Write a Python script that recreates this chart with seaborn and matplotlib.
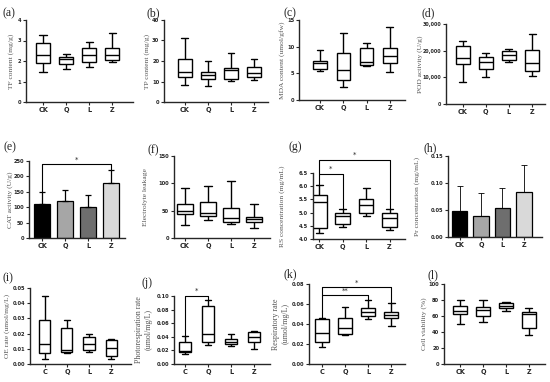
import numpy as np
import pandas as pd
import matplotlib
matplotlib.use("Agg")
import matplotlib.pyplot as plt
import seaborn as sns

sns.set_style("ticks")
plt.rcParams['font.family'] = ['DejaVu Sans']

# ---------------- data (min, Q1, median, Q3, max per group) ----------------
cats4 = ["CK", "Q", "L", "Z"]
cats4c = ["C", "Q", "L", "Z"]

tf_CK = [1.47, 1.92, 2.30, 2.88, 3.25]
tf_Q = [1.60, 1.84, 2.08, 2.20, 2.35]
tf_L = [1.71, 1.95, 2.27, 2.64, 2.91]
tf_Z = [1.95, 2.03, 2.27, 2.62, 3.36]

tp_CK = [8.5, 12.2, 14.7, 21.2, 31.0]
tp_Q = [7.7, 11.0, 13.0, 14.4, 20.0]
tp_L = [10.3, 11.3, 15.5, 16.8, 23.7]
tp_Z = [10.6, 12.2, 14.2, 17.1, 21.2]

mda_CK = [5.4, 5.9, 7.0, 7.4, 9.4]
mda_Q = [2.5, 3.8, 5.7, 8.9, 12.5]
mda_L = [6.3, 6.5, 7.2, 9.7, 10.6]
mda_Z = [5.2, 7.0, 8.2, 9.7, 13.6]

pod_CK = [8200, 14900, 17200, 21600, 23700]
pod_Q = [10300, 13200, 15900, 17600, 19300]
pod_L = [15700, 16600, 18400, 19900, 20600]
pod_Z = [10600, 12200, 15300, 20100, 26200]

cat_mean = [110, 120, 100, 180]
cat_top = [148, 155, 140, 222]

el_CK = [24, 44, 50, 63, 91]
el_Q = [33, 41, 45, 65, 96]
el_L = [26, 30, 36, 55, 104]
el_Z = [19, 30, 35, 39, 62]

rs_CK = [4.22, 4.42, 5.42, 5.67, 6.05]
rs_Q = [4.45, 4.55, 4.88, 5.00, 5.12]
rs_L = [4.87, 5.00, 5.28, 5.50, 5.92]
rs_Z = [4.35, 4.45, 4.78, 5.00, 5.12]

pr_mean = [0.048, 0.039, 0.054, 0.083]
pr_top = [0.094, 0.081, 0.090, 0.134]

oe_C = [0.0035, 0.0075, 0.013, 0.029, 0.045]
oe_Q = [0.007, 0.008, 0.0095, 0.024, 0.029]
oe_L = [0.008, 0.0095, 0.013, 0.018, 0.0195]
oe_Z = [0.0035, 0.0055, 0.0105, 0.016, 0.0165]

ph_C = [0.014, 0.017, 0.019, 0.032, 0.041]
ph_Q = [0.028, 0.033, 0.044, 0.085, 0.094]
ph_L = [0.027, 0.030, 0.032, 0.037, 0.044]
ph_Z = [0.022, 0.032, 0.040, 0.047, 0.048]

rr_C = [0.017, 0.022, 0.031, 0.045, 0.046]
rr_Q = [0.029, 0.030, 0.036, 0.046, 0.057]
rr_L = [0.045, 0.048, 0.052, 0.056, 0.064]
rr_Z = [0.038, 0.046, 0.049, 0.052, 0.061]

cv_CK = [50, 62, 66, 72, 80]
cv_Q = [53, 60, 67, 71, 80]
cv_L = [66, 70, 72, 76, 78]
cv_Z = [36, 45, 62, 65, 70]

bar_colors = ["#000000", "#a6a6a6", "#6e6e6e", "#d9d9d9"]

# ---------------- helpers ----------------
W, H = 550, 382
fig = plt.figure(figsize=(W / 100, H / 100), dpi=100)

def add_ax(l, t, r, b):
    ax = fig.add_axes([l / W, 1 - b / H, (r - l) / W, (b - t) / H])
    ax._px = (l, r)
    return ax

serif = ['Liberation Serif', 'DejaVu Serif']

def style(ax, cats, yticks, ylabels, ylabel, letter, lpos, xlim, ylx,
          ylsize=5.4, ytsize=3.7):
    ax.set_xlim(*xlim)
    ax.set_ylim(yticks[0], yticks[-1])
    ax.set_yticks(yticks)
    ax.set_yticklabels(ylabels, fontsize=ytsize, fontweight='bold')
    ax.set_xticks(range(len(cats)))
    ax.set_xticklabels(cats, fontsize=4.7, fontweight='bold')
    ax.set_xlabel("")
    ax.set_ylabel(ylabel, family=serif, fontsize=ylsize, color='#555555',
                  va='center', ha='center')
    l, r = ax._px
    ax.yaxis.set_label_coords((ylx - l) / (r - l), 0.5)
    for s in ['top', 'right']:
        ax.spines[s].set_visible(False)
    for s in ['left', 'bottom']:
        ax.spines[s].set_linewidth(1.0)
    ax.tick_params(length=2, width=0.8, pad=1.5)
    fig.text(lpos[0] / W, 1 - lpos[1] / H, f"({letter})", family=serif,
             fontsize=8.5, ha='center', va='center')

def box(ax, cats, groups, width):
    df = pd.DataFrame({'group': np.repeat(cats, [len(g) for g in groups]),
                       'value': np.concatenate(groups)})
    sns.boxplot(data=df, x='group', y='value', order=cats, ax=ax,
                color='white', linecolor='black', linewidth=1.0, width=width,
                whis=(0, 100), showfliers=False)

def bars(ax, cats, means, tops, elw):
    sns.barplot(x=cats, y=means, hue=cats, palette=bar_colors, legend=False,
                edgecolor='black', linewidth=0.9, width=0.72, ax=ax)
    up = np.array(tops) - np.array(means)
    ax.errorbar(range(len(cats)), means, yerr=[np.zeros_like(up), up],
                fmt='none', ecolor='black', elinewidth=elw, capsize=2.5,
                capthick=elw)

def bracket(ax, i, j, y, yl, yr, txt, dy):
    ax.plot([i, i, j, j], [yl, y, y, yr], color='black', lw=0.8,
            clip_on=False, solid_capstyle='butt')
    ax.text((i + j) / 2, y + dy, txt, ha='center', va='bottom',
            fontsize=5, clip_on=False)

# ---------------- row 1 ----------------
ax = add_ax(26, 20, 133, 102)
box(ax, cats4, [tf_CK, tf_Q, tf_L, tf_Z], 0.62)
style(ax, cats4, [0, 1, 2, 3, 4], ["0", "1", "2", "3", "4"],
      "TF content (mg/g)", "a", (9, 13), (-0.74, 3.9), 11)

ax = add_ax(164, 20, 268, 102)
box(ax, cats4, [tp_CK, tp_Q, tp_L, tp_Z], 0.58)
style(ax, cats4, [0, 10, 20, 30, 40], ["0", "10", "20", "30", "40"],
      "TP content (mg/g)", "b", (153, 13), (-0.9, 3.6), 147)

ax = add_ax(299, 20, 405, 100)
box(ax, cats4, [mda_CK, mda_Q, mda_L, mda_Z], 0.58)
style(ax, cats4, [0, 5, 10, 15], ["0", "5", "10", "15"],
      "MDA content (umol/gfw)", "c", (290, 13), (-0.9, 3.65), 282)

ax = add_ax(446, 24, 545, 104)
box(ax, cats4, [pod_CK, pod_Q, pod_L, pod_Z], 0.6)
style(ax, cats4, [0, 10000, 20000, 30000], ["0", "10,000", "20,000", "30,000"],
      "POD activity (U/g)", "d", (428, 13), (-0.72, 3.56), 420, ytsize=3.4)

# ---------------- row 2 ----------------
ax = add_ax(29, 161, 125, 238)
bars(ax, cats4, cat_mean, cat_top, 0.9)
style(ax, cats4, [0, 50, 100, 150, 200, 250], ["0", "50", "100", "150", "200", "250"],
      "CAT activity (U/g)", "e", (10, 147), (-0.57, 3.6), 10)
bracket(ax, 0, 3, 240, cat_top[0], cat_top[3], "*", 4)

ax = add_ax(174, 156, 270, 238)
box(ax, cats4, [el_CK, el_Q, el_L, el_Z], 0.66)
style(ax, cats4, [0, 50, 100, 150], ["0", "50", "100", "150"],
      "Electrolyte leakage", "f", (153, 150), (-0.48, 3.7), 145)

ax = add_ax(313, 173, 405, 239)
box(ax, cats4, [rs_CK, rs_Q, rs_L, rs_Z], 0.62)
style(ax, cats4, [4.0, 4.5, 5.0, 5.5, 6.0, 6.5],
      ["4.0", "4.5", "5.0", "5.5", "6.0", "6.5"],
      "RS concentration (mg/mL)", "g", (295, 147), (-0.27, 3.66), 282)
bracket(ax, 0, 1, 6.47, rs_CK[-1], rs_Q[-1], "*", 0.06)
bracket(ax, 0, 3, 7.0, 6.47, rs_Z[-1], "*", 0.06)

ax = add_ax(448, 156, 542, 237)
bars(ax, cats4, pr_mean, pr_top, 0.6)
style(ax, cats4, [0, 0.05, 0.10, 0.15], ["0.00", "0.05", "0.10", "0.15"],
      "Pr concentration (mg/mL)", "h", (430, 148), (-0.55, 3.85), 417)

# ---------------- row 3 ----------------
ax = add_ax(30, 288, 131, 364)
box(ax, cats4c, [oe_C, oe_Q, oe_L, oe_Z], 0.5)
style(ax, cats4c, [0, 0.01, 0.02, 0.03, 0.04, 0.05],
      ["0.00", "0.01", "0.02", "0.03", "0.04", "0.05"],
      "OE rate (umol/mg/L)", "i", (8, 278), (-0.67, 3.9), 7)

ax = add_ax(174, 296, 270, 364)
box(ax, cats4c, [ph_C, ph_Q, ph_L, ph_Z], 0.55)
style(ax, cats4c, [0, 0.02, 0.04, 0.06, 0.08, 0.10],
      ["0.00", "0.02", "0.04", "0.06", "0.08", "0.10"],
      "Photorespiration rate\n(umol/mg/L)", "j", (147, 283), (-0.48, 3.7), 144, 5.8)
bracket(ax, 0, 1, 0.100, ph_C[-1], ph_Q[-1], "*", 0.003)

ax = add_ax(309, 284, 405, 364)
box(ax, cats4c, [rr_C, rr_Q, rr_L, rr_Z], 0.58)
style(ax, cats4c, [0, 0.02, 0.04, 0.06, 0.08],
      ["0.00", "0.02", "0.04", "0.06", "0.08"],
      "Respiratory rate\n(umol/mg/L)", "k", (290, 274), (-0.56, 3.6), 281, 5.8)
bracket(ax, 0, 2, 0.069, rr_C[-1], rr_L[-1], "**", 0.001)
bracket(ax, 0, 3, 0.077, 0.069, rr_Z[-1], "*", 0.001)

ax = add_ax(444, 284, 545, 364)
box(ax, cats4, [cv_CK, cv_Q, cv_L, cv_Z], 0.62)
style(ax, cats4, [0, 20, 40, 60, 80, 100], ["0", "20", "40", "60", "80", "100"],
      "Cell viability (%)", "l", (433, 275), (-0.7, 3.7), 424)

fig.savefig("out.png", dpi=100)
